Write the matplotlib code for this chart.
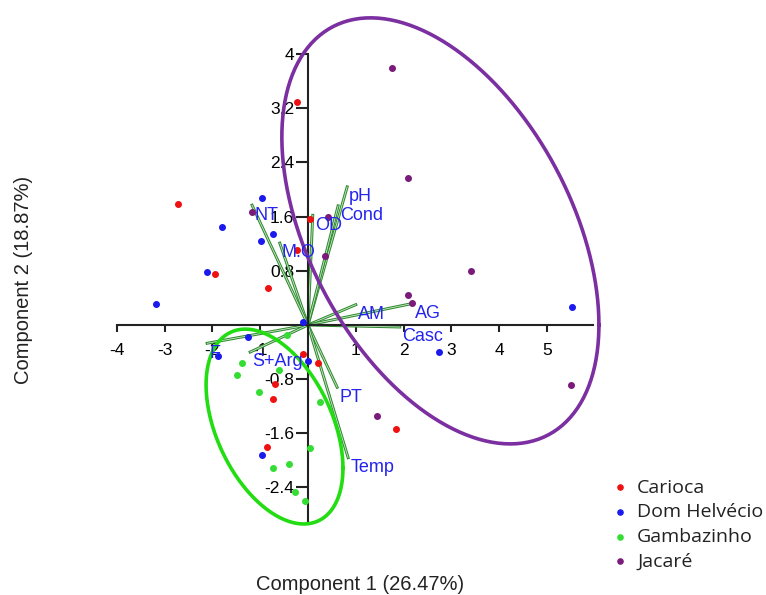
import numpy as np
import matplotlib
matplotlib.use("Agg")
import matplotlib.pyplot as plt
import matplotlib.patheffects as pe

plt.rcParams['font.family'] = ['Liberation Sans', 'DejaVu Sans']
plt.rcParams['axes.unicode_minus'] = False

# sample scores (Component 1, Component 2)
carioca_x = [-0.23, -2.72, 0.04, -0.23, -1.95, -0.84, -0.10, 0.21, -0.69, -0.73, -0.86, 1.84]
carioca_y = [3.29, 1.79, 1.57, 1.11, 0.75, 0.55, -0.43, -0.56, -0.87, -1.09, -1.80, -1.54]

domh_x = [-3.18, -2.11, -1.80, -0.96, -0.98, -0.73, -0.10, -1.26, 0.00, -0.96, 2.74, 5.52, -1.88]
domh_y = [0.31, 0.78, 1.45, 1.88, 1.24, 1.34, 0.04, -0.18, -0.53, -1.92, -0.40, 0.27, -0.46]

gamb_x = [-0.44, -1.38, -1.49, -0.61, -1.03, 0.25, 0.04, -0.73, -0.40, -0.27, -0.06]
gamb_y = [-0.15, -0.56, -0.74, -0.66, -0.99, -1.14, -1.82, -2.11, -2.05, -2.47, -2.60]

jacare_x = [1.76, 2.09, 3.41, 2.09, 2.18, 5.50, 1.44, 0.36, 0.42, -1.17]
jacare_y = [3.80, 2.17, 0.80, 0.44, 0.32, -0.89, -1.34, 1.02, 1.60, 1.67]

# variable loadings (biplot vectors)
var_names = ['pH', 'Cond', 'OD', 'M.O', 'NT', 'AM', 'AG', 'Casc', 'F', 'S+Arg', 'PT', 'Temp']
var_x = [0.82, 0.63, 0.10, -0.59, -1.17, 1.00, 2.20, 1.92, -2.11, -1.21, 0.61, 0.84]
var_y = [2.04, 1.76, 1.62, 1.21, 1.77, 0.30, 0.32, -0.03, -0.27, -0.40, -0.92, -1.96]

# group ellipses: centre and covariance-like shape
purple_center = [2.77, 1.39]
purple_shape = [[11.0, -4.6], [-4.6, 9.9]]
green_center = [-0.70, -1.50]
green_shape = [[2.05, -0.88], [-0.88, 2.07]]

x_ticks = [-4, -3, -2, -1, 1, 2, 3, 4, 5]
y_ticks = [4, 3.2, 2.4, 1.6, 0.8, -0.8, -1.6, -2.4]
y_tick_labels = ['4', '3.2', '2.4', '1.6', '0.8', '-0.8', '-1.6', '-2.4']


def ellipse_xy(center, shape, n=300):
    t = np.linspace(0, 2 * np.pi, n)
    L = np.linalg.cholesky(np.array(shape))
    pts = L @ np.vstack([np.cos(t), np.sin(t)])
    return pts[0] + center[0], pts[1] + center[1]


fig = plt.figure(figsize=(7.66, 5.95), dpi=100)
ax = fig.add_axes([0, 0, 1, 1])
ax.set_xlim(-6.443, 9.582)
ax.set_ylim(-3.988, 4.80)

# axes through the origin
for s in ['top', 'right']:
    ax.spines[s].set_visible(False)
ax.spines['left'].set_position(('data', 0))
ax.spines['bottom'].set_position(('data', 0))
ax.spines['bottom'].set_bounds(-4, 5.96)
ax.spines['left'].set_bounds(-2.92, 4)
for s in ['left', 'bottom']:
    ax.spines[s].set_linewidth(1.5)
    ax.spines[s].set_color('#222222')
ax.set_xticks(x_ticks)
ax.set_xticklabels([str(v) for v in x_ticks])
ax.set_yticks(y_ticks)
ax.set_yticklabels(y_tick_labels)
ax.tick_params(axis='x', direction='out', length=5, width=1.5, pad=8,
               labelsize=12.5, color='#222222')
ax.tick_params(axis='y', direction='out', length=9, width=1.5, pad=1,
               labelsize=12.5, color='#222222')

# loading vectors
vec_fx = [pe.Stroke(linewidth=2.1, foreground='#2f8a2f'), pe.Normal()]
for vx, vy in zip(var_x, var_y):
    ax.plot([0, vx], [0, vy], color='#cdeccd', lw=0.6, zorder=2,
            path_effects=vec_fx)

ax.scatter(carioca_x, carioca_y, s=16, color='#ee1111', zorder=3, label='Carioca')
ax.scatter(domh_x, domh_y, s=16, color='#1a1aee', zorder=3, label='Dom Helvécio')
ax.scatter(gamb_x, gamb_y, s=16, color='#33dd33', zorder=3, label='Gambazinho')
ax.scatter(jacare_x, jacare_y, s=16, color='#7a1a7a', zorder=3, label='Jacaré')

ex, ey = ellipse_xy(purple_center, purple_shape)
ax.plot(ex, ey, color='#7b2fa0', lw=2.6, zorder=4)
ex, ey = ellipse_xy(green_center, green_shape)
ax.plot(ex, ey, color='#22dd11', lw=2.6, zorder=4)

for name, vx, vy in zip(var_names, var_x, var_y):
    ax.annotate(name, (vx, vy), xytext=(1.5, -1), textcoords='offset points',
                ha='left', va='top', fontsize=13, color='#2424ee', zorder=5)

leg = ax.legend(loc='upper left', bbox_to_anchor=(0.791, 0.212),
                bbox_transform=fig.transFigure, frameon=False,
                borderpad=0, handlelength=0.5, handletextpad=0.6,
                labelspacing=0.34, prop={'family': 'Open Sans', 'size': 14})
for h in leg.legend_handles:
    h.set_sizes([14])
for t in leg.get_texts():
    t.set_color('#222222')

fig.text(0.470, 0.017, 'Component 1 (26.47%)', ha='center', va='center',
         fontsize=14.5, color='#222222')
fig.text(0.031, 0.529, 'Component 2 (18.87%)', ha='center', va='center',
         rotation=90, fontsize=14.5, color='#222222')

fig.savefig('out.png', dpi=100)
